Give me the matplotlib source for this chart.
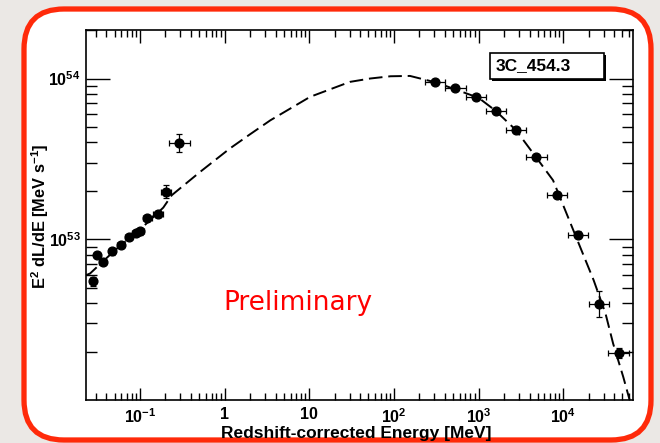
import numpy as np
import matplotlib
matplotlib.use("Agg")
import matplotlib.pyplot as plt
from matplotlib.patches import FancyBboxPatch, Rectangle
from matplotlib.transforms import IdentityTransform, offset_copy
from matplotlib.ticker import LogLocator, NullFormatter, FixedLocator, FixedFormatter

plt.rcParams['font.family'] = ['Liberation Sans', 'DejaVu Sans']
plt.rcParams['font.weight'] = 'bold'
plt.rcParams['mathtext.fontset'] = 'custom'
plt.rcParams['mathtext.rm'] = 'Liberation Sans:bold'
plt.rcParams['mathtext.bf'] = 'Liberation Sans:bold'
plt.rcParams['mathtext.default'] = 'bf'

# data points (energy in MeV, E^2 dL/dE in MeV/s)
energy = [0.0276, 0.0308, 0.0362, 0.0467, 0.0591, 0.0735, 0.0897, 0.100,
          0.122, 0.163, 0.203, 0.292,
          304, 533, 937, 1600, 2780, 4830, 8490, 14900, 26400, 45100]
lum = [5.46e52, 7.95e52, 7.2e52, 8.4e52, 9.2e52, 1.03e53, 1.09e53, 1.12e53,
       1.36e53, 1.44e53, 1.97e53, 3.97e53,
       9.5e53, 8.73e53, 7.69e53, 6.28e53, 4.76e53, 3.25e53, 1.89e53, 1.07e53,
       3.95e52, 1.96e52]
# half widths of the error bars in decades
x_err_dex = [0.03, 0.03, 0.04, 0.04, 0.04, 0.04, 0.05, 0.05,
             0.05, 0.06, 0.06, 0.12,
             0.12, 0.12, 0.12, 0.12, 0.12, 0.12, 0.12, 0.12, 0.12, 0.12]
y_err_dex = [0.03, 0.02, 0.02, 0.02, 0.02, 0.02, 0.02, 0.02,
             0.02, 0.02, 0.04, 0.054,
             0.01, 0.01, 0.01, 0.01, 0.01, 0.015, 0.015, 0.02, 0.08, 0.03]

# model curve (log10 E, log10 E^2 dL/dE)
curve_logE = [-1.64, -1.59, -1.3, -1.0, -0.725, -0.625, -0.29, 0.06, 0.3, 0.54,
              1.01, 1.48, 1.72, 1.96, 2.19, 2.5, 3.0, 3.2, 3.44, 3.68, 3.88,
              4.16, 4.36, 4.50, 4.59, 4.71, 4.785]
curve_logL = [52.776, 52.787, 52.93, 53.06, 53.197, 53.274, 53.419, 53.564, 53.653,
              53.74, 53.886, 53.979, 54.0, 54.014, 54.016, 53.975, 53.88, 53.80,
              53.68, 53.51, 53.367, 53.004, 52.745, 52.538, 52.351, 52.143, 52.0]

x_ticks = [0.1, 1, 10, 100, 1000, 10000]
x_labels = ['10$^{-1}$', '1', '10', '10$^{2}$', '10$^{3}$', '10$^{4}$']
y_ticks = [1e53, 1e54]
y_labels = ['10$^{53}$', '10$^{54}$']

fig = plt.figure(figsize=(6.6, 4.43), dpi=100)
fig.patch.set_facecolor('#ebe8e5')

# red rounded frame, in pixels
frame = FancyBboxPatch((24, 3), 627, 431, boxstyle="round,pad=0,rounding_size=40",
                       transform=IdentityTransform(), facecolor='white',
                       edgecolor='#ff2a0a', linewidth=3.8, zorder=-5)
fig.patches.append(frame)

ax = fig.add_axes([0.1303, 0.0971, 0.959 - 0.1303, 0.932 - 0.0971])
ax.set_zorder(2)
ax.set_facecolor('white')
ax.set_xscale('log')
ax.set_yscale('log')
ax.set_xlim(0.023, 66700)
ax.set_ylim(1e52, 2e54)

e = np.array(energy)
l = np.array(lum)
xe = np.array(x_err_dex)
ye = np.array(y_err_dex)
xerr = [e - e / 10**xe, e * 10**xe - e]
yerr = [l - l / 10**ye, l * 10**ye - l]

ln, = ax.plot(10**np.array(curve_logE), 10**np.array(curve_logL), color='black',
              lw=1.4, zorder=2)
ln.set_dashes((7, 3))
ax.errorbar(e, l, xerr=xerr, yerr=yerr, fmt='o', color='black', ms=6.3,
            elinewidth=0.9, capsize=2, capthick=0.9, zorder=3)

for s in ax.spines.values():
    s.set_linewidth(1.2)

ax.xaxis.set_major_locator(FixedLocator(x_ticks))
ax.xaxis.set_major_formatter(FixedFormatter(x_labels))
ax.xaxis.set_minor_locator(LogLocator(base=10, subs=np.arange(2, 10), numticks=20))
ax.xaxis.set_minor_formatter(NullFormatter())
ax.yaxis.set_major_locator(FixedLocator(y_ticks))
ax.yaxis.set_major_formatter(FixedFormatter(y_labels))
ax.yaxis.set_minor_locator(LogLocator(base=10, subs=np.arange(2, 10), numticks=20))
ax.yaxis.set_minor_formatter(NullFormatter())

ax.tick_params(axis='x', which='major', direction='in', length=9, width=1,
               top=True, labelsize=11.5, pad=5)
ax.tick_params(axis='x', which='minor', direction='in', length=5, width=1, top=True)
ax.tick_params(axis='y', which='major', direction='in', length=17, width=1,
               right=True, labelsize=11.5, pad=4)
ax.tick_params(axis='y', which='minor', direction='in', length=8, width=1, right=True)
for t in ax.get_xticklabels() + ax.get_yticklabels():
    t.set_fontweight('bold')

fig.text(0.54, 0.021, 'Redshift-corrected Energy [MeV]', ha='center', va='center',
         fontsize=12.5, fontweight='bold')
fig.text(0.061, 0.512, 'E$^{2}$ dL/dE [MeV s$^{-1}$]', ha='center', va='center',
         rotation=90, fontsize=11.8, fontweight='bold')

# source name box with a small drop shadow
shadow = Rectangle((0.739, 0.868), 0.208, 0.070, transform=offset_copy(
    ax.transAxes, fig=fig, x=2, y=-2, units='dots'), facecolor='black',
    edgecolor='none', zorder=4)
box = Rectangle((0.739, 0.868), 0.208, 0.070, transform=ax.transAxes,
                facecolor='white', edgecolor='black', linewidth=1.2, zorder=5)
ax.add_patch(shadow)
ax.add_patch(box)
ax.text(0.818, 0.903, '3C_454.3', transform=ax.transAxes, ha='center', va='center',
        fontsize=12.5, fontweight='bold', zorder=6)

ax.text(0.388, 0.262, 'Preliminary', transform=ax.transAxes, ha='center', va='center',
        fontsize=19, color='#ff0000', fontweight='normal', family='DejaVu Sans')

fig.savefig('out.png', dpi=100, facecolor=fig.get_facecolor())
